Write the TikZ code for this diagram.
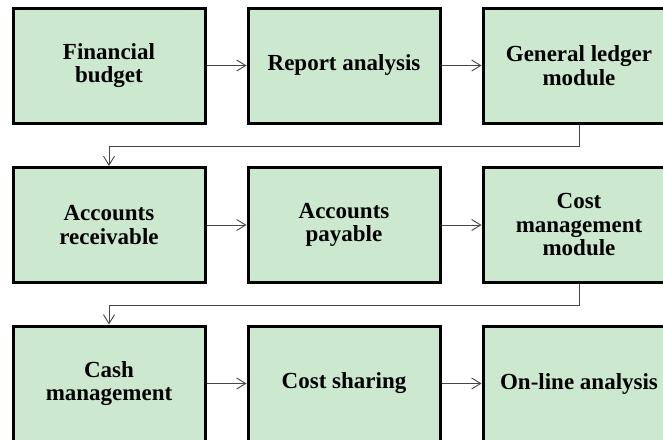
\documentclass[tikz,border=0pt]{standalone}
\usepackage{fontspec}
\setmainfont{Liberation Serif}
\usetikzlibrary{arrows.meta}
\definecolor{boxgreen}{RGB}{204,232,207}
\definecolor{linkgray}{RGB}{70,70,70}
\begin{document}
\begin{tikzpicture}[x=1pt,y=-1pt,
  stage/.style={draw=black, line width=3pt, fill=boxgreen,
    minimum width=192pt, minimum height=115pt, inner sep=0pt,
    align=center, font=\fontsize{23}{23.5}\selectfont\bfseries},
  link/.style={draw=linkgray, line width=0.9pt,
    -{Straight Barb[length=9pt,width=11pt,line width=0.9pt]}}]
\useasboundingbox (0,0) rectangle (663,439);
% row 1
\node[stage] (fb) at (109,65.5) {Financial\\budget};
\node[stage] (ra) at (344,65.5) {Report analysis};
\node[stage] (gl) at (579,65.5) {General ledger\\module};
% row 2
\node[stage] (ar) at (109,225) {Accounts\\receivable};
\node[stage] (ap) at (344,225) {Accounts\\payable};
\node[stage] (cm) at (579,225) {Cost\\management\\module};
% row 3
\node[stage] (ca) at (109,383.5) {Cash\\management};
\node[stage] (cs) at (344,383.5) {Cost sharing};
\node[stage] (ol) at (579,383.5) {On-line analysis};
% horizontal links
\draw[link] (fb) -- (ra);
\draw[link] (ra) -- (gl);
\draw[link] (ar) -- (ap);
\draw[link] (ap) -- (cm);
\draw[link] (ca) -- (cs);
\draw[link] (cs) -- (ol);
% row-to-row links
\draw[link] (gl.south) -- ++(0,21.5) -| (ar.north);
\draw[link] (cm.south) -- ++(0,21.5) -| (ca.north);
\end{tikzpicture}
\end{document}
